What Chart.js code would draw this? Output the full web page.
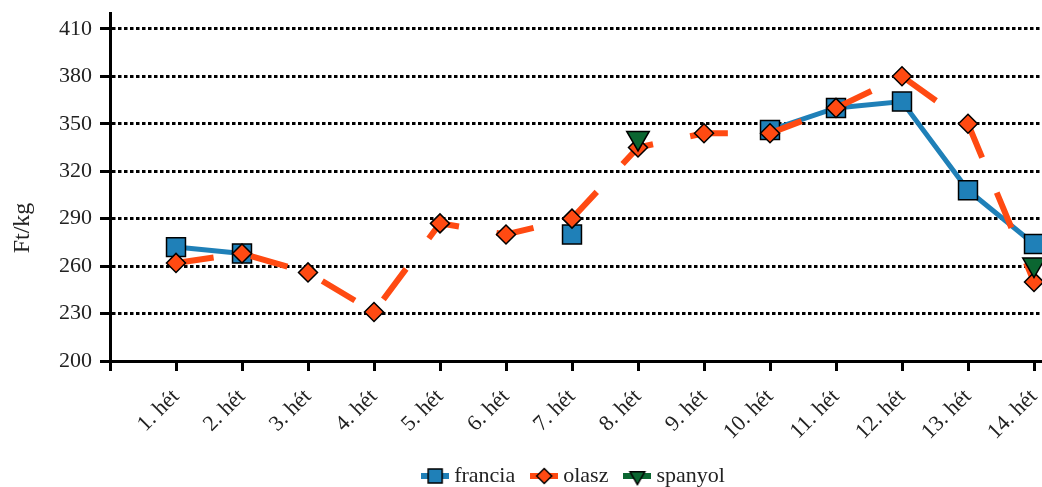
<!DOCTYPE html>
<html><head><meta charset="utf-8">
<script src="https://cdn.jsdelivr.net/npm/chart.js@4.4.1/dist/chart.umd.min.js"></script>
<style>html,body{margin:0;padding:0;background:#fff;overflow:hidden;}#wrap{width:1042px;height:487px;position:relative;overflow:hidden;}canvas{display:block;}</style>
</head><body><div id="wrap"><canvas id="c"></canvas></div>
<script>
const categories = ['1. hét','2. hét','3. hét','4. hét','5. hét','6. hét','7. hét','8. hét','9. hét','10. hét','11. hét','12. hét','13. hét','14. hét'];
const francia = [272, 268, null, null, null, null, 280, null, null, 346, 360, 364, 308, 274];
const olasz   = [262, 268, 256, 231, 287, 280, 290, 335, 344, 344, 360, 380, 350, 250];
const spanyol = [null, null, null, null, null, null, null, 341, null, null, null, null, null, 261];
const seriesNames = ['francia', 'olasz', 'spanyol'];
const yTicks = [200, 230, 260, 290, 320, 350, 380, 410];
const yTitle = 'Ft/kg';

const FONT = '"Liberation Serif", "Times New Roman", serif';
const TXT = '#222222';
const C_BLUE = '#1F80B8', C_ORANGE = '#FF4A12', C_GREEN = '#0B6631';

const toXY = arr => arr.map((v, i) => ({x: i + 1, y: v}));

function legendIcon(color, lineW, style, radius, rotation) {
  const c = document.createElement('canvas');
  c.width = 28; c.height = 20;
  const g = c.getContext('2d');
  g.strokeStyle = color; g.lineWidth = lineW;
  g.beginPath(); g.moveTo(0, 10); g.lineTo(28, 10); g.stroke();
  g.fillStyle = color; g.strokeStyle = '#000'; g.lineWidth = 1.5;
  Chart.helpers.drawPoint(g, {pointStyle: style, radius: radius, rotation: rotation || 0, borderWidth: 1.5}, 14, 10);
  return c;
}

const yTitlePlugin = {
  id: 'yTitleDraw',
  afterDraw(chart) {
    const ctx = chart.ctx;
    ctx.save();
    ctx.translate(23, 228);
    ctx.rotate(-Math.PI / 2);
    ctx.font = '24px ' + FONT;
    ctx.fillStyle = TXT;
    ctx.textAlign = 'center';
    ctx.textBaseline = 'middle';
    ctx.fillText(yTitle, 0, 0);
    ctx.restore();
  }
};

const xMax = 14 + 8 / 66;

new Chart(document.getElementById('c'), {
  type: 'line',
  data: {
    datasets: [
      {label: seriesNames[0], data: toXY(francia), borderColor: C_BLUE, backgroundColor: C_BLUE, borderWidth: 5,
       pointStyle: 'rect', pointRadius: 13.4, pointBorderColor: '#000', pointBorderWidth: 1.5, pointBackgroundColor: C_BLUE,
       spanGaps: false, tension: 0, clip: false, order: 2},
      {label: seriesNames[1], data: toXY(olasz), borderColor: C_ORANGE, backgroundColor: C_ORANGE, borderWidth: 6, borderDash: [38, 38],
       pointStyle: 'rectRot', pointRadius: 9.5, pointBorderColor: '#000', pointBorderWidth: 1.5, pointBackgroundColor: C_ORANGE,
       spanGaps: false, tension: 0, clip: false, order: 1},
      {label: seriesNames[2], data: toXY(spanyol), borderColor: C_GREEN, backgroundColor: C_GREEN, borderWidth: 5,
       pointStyle: 'triangle', pointRotation: 180, pointRadius: 13, pointBorderColor: '#000', pointBorderWidth: 1.5, pointBackgroundColor: C_GREEN,
       spanGaps: false, tension: 0, clip: false, order: 0}
    ]
  },
  options: {
    responsive: true, maintainAspectRatio: false, animation: false, devicePixelRatio: 1,
    layout: {autoPadding: false, padding: {top: 13, right: 0, left: 0, bottom: -10}},
    plugins: {
      tooltip: {enabled: false},
      legend: {
        position: 'bottom', fullSize: false,
        labels: {
          font: {family: FONT, size: 22}, color: TXT, usePointStyle: true, pointStyleWidth: 16, boxHeight: 20, padding: 21,
          generateLabels(chart) {
            const icons = [
              legendIcon(C_BLUE, 6, 'rect', 9.9, 0),
              legendIcon(C_ORANGE, 6, 'rectRot', 7.5, 0),
              legendIcon(C_GREEN, 6, 'triangle', 8.5, 180)
            ];
            return seriesNames.map((n, i) => ({text: n, pointStyle: icons[i], datasetIndex: i, fillStyle: '#fff', strokeStyle: '#fff', lineWidth: 0, fontColor: TXT, hidden: false}));
          }
        }
      }
    },
    scales: {
      x: {
        type: 'linear', min: 0, max: xMax,
        afterBuildTicks(s) { s.ticks = [0].concat(categories.map((c, i) => i + 1)).map(v => ({value: v})); },
        afterFit(s) { s.height = 83; s.paddingLeft = 0; s.paddingRight = 0; },
        ticks: {
          autoSkip: false, maxRotation: 45, minRotation: 45, padding: 13,
          font: {family: FONT, size: 22}, color: TXT,
          callback(v) { return v >= 1 && v <= categories.length ? categories[v - 1] : ''; }
        },
        grid: {display: true, drawOnChartArea: false, drawTicks: true, tickLength: 10, tickWidth: 3, tickColor: '#000', color: '#000'},
        border: {display: true, color: '#000', width: 3}
      },
      y: {
        type: 'linear', min: 200, max: 420,
        afterBuildTicks(s) { s.ticks = yTicks.map(v => ({value: v})); },
        afterFit(s) { s.width = 110; s.paddingTop = 0; s.paddingBottom = 0; },
        ticks: {padding: 8, font: {family: FONT, size: 22}, color: TXT},
        grid: {display: true, drawOnChartArea: true, drawTicks: true, tickLength: 10, tickWidth: 3, tickColor: '#000', color: '#000', lineWidth: 3, tickBorderDash: []},
        border: {display: true, color: '#000', width: 3, dash: [3.5, 2.5]}
      }
    }
  },
  plugins: [yTitlePlugin]
});
</script>
</body></html>
